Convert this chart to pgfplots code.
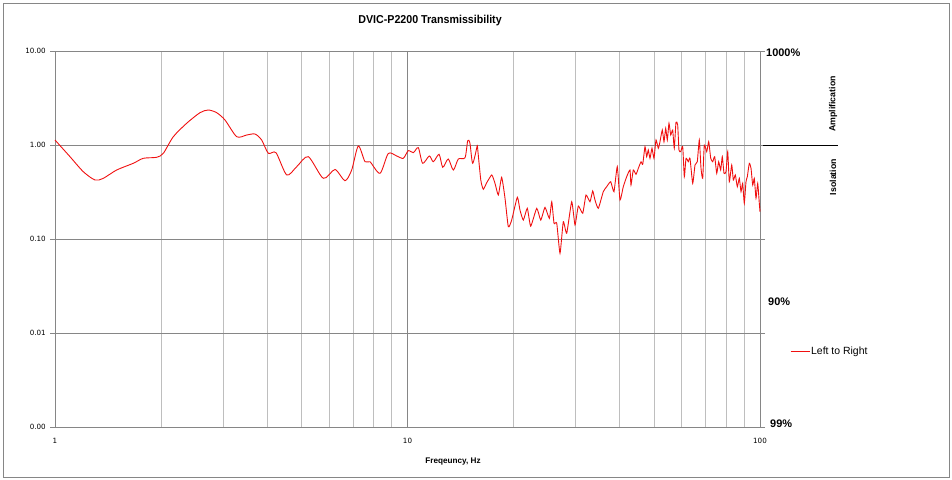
\documentclass[border=0pt]{standalone}
\usepackage{pgfplots}
\pgfplotsset{compat=1.18}
\usepackage{fontspec}
\setmainfont{Liberation Sans}
\newfontfamily\dejavu{DejaVu Sans}
\newfontfamily\narrow[FakeStretch=0.93]{Liberation Sans}
\definecolor{majgrid}{HTML}{868686}
\definecolor{mingrid}{HTML}{BEBEBE}
\definecolor{curve}{HTML}{F01010}
\begin{document}
\begin{tikzpicture}
\path[use as bounding box] (-55bp,-53bp) rectangle (897bp,427bp);
\draw[color=majgrid, line width=0.8bp] (-52bp,-50bp) rectangle (894bp,424bp);
\begin{axis}[
  scale only axis, width=705bp, height=376bp,
  xmode=log, ymode=log,
  xmin=1, xmax=100, ymin=0.001, ymax=10,
  xtick={1,10,100}, xticklabels={1,10,100},
  ytick={0.001,0.01,0.1,1,10}, yticklabels={0.00,0.01,0.10,1.00,10.00},
  yminorticks=false,
  xmajorgrids, xminorgrids, ymajorgrids,
  major grid style={color=majgrid, line width=0.7bp},
  minor grid style={color=mingrid, line width=0.7bp},
  axis line style={color=majgrid, line width=0.7bp},
  tick align=outside,
  major tick length=5bp, minor tick length=0pt,
  xtick style={draw=none},
  ytick style={color=majgrid, line width=0.7bp},
  yticklabel style={font=\dejavu\fontsize{7.2}{8}\selectfont, inner sep=0pt, xshift=-4bp},
  xticklabel style={font=\dejavu\fontsize{7.2}{8}\selectfont, inner sep=0pt, yshift=-6bp},
  title={DVIC-P2200 Transmissibility},
  title style={font=\narrow\bfseries\fontsize{11.5}{13}\selectfont, at={(rel axis cs:0.532,1)}, anchor=center, yshift=24bp},
  xlabel={Freqeuncy, Hz},
  xlabel style={font=\bfseries\fontsize{8.2}{9}\selectfont, at={(rel axis cs:0.5645,0)}, anchor=center, yshift=-35bp},
  legend style={draw=none, fill=none, at={(rel axis cs:1.0426,0.2)}, anchor=west, font=\fontsize{10.5}{12}\selectfont, inner sep=0pt},
  legend image code/.code={\path (0bp,0bp) -- (18bp,0bp);},
  clip=false,
]
\addplot[color=curve, line width=0.9bp, smooth, tension=0.45] coordinates {
(1.000,1.130) (1.103,0.751) (1.203,0.520) (1.299,0.424) (1.371,0.442)
(1.496,0.542) (1.668,0.639) (1.781,0.722) (1.943,0.740) (2.029,0.816)
(2.166,1.225) (2.363,1.702) (2.578,2.206) (2.722,2.357) (2.875,2.206)
(3.036,1.845) (3.277,1.225) (3.498,1.277) (3.693,1.309) (3.858,1.130)
(4.029,0.816) (4.236,0.828) (4.543,0.480) (4.850,0.588) (5.231,0.751)
(5.769,0.442) (6.229,0.549) (6.647,0.417) (6.945,0.542) (7.251,0.976)
(7.576,0.664) (7.828,0.664) (8.356,0.500) (8.820,0.812) (9.320,0.764)
(9.730,0.722) (10.05,0.870) (10.39,0.828) (10.73,0.936) (11.04,0.639)
(11.53,0.764) (11.84,0.664) (12.29,0.796) (12.59,0.579) (13.05,0.710)
(13.49,0.542) (13.94,0.710) (14.56,0.732) (14.82,1.111) (15.04,1.042)
(15.31,0.639) (15.78,1.000)
};
\addlegendentry{Left to Right}
\addplot[color=curve, line width=0.9bp, smooth, tension=0.3, forget plot] coordinates {
(15.78,1.000) (16.14,0.424) (16.41,0.338) (16.78,0.397) (17.34,0.480)
(17.71,0.391) (18.10,0.294) (18.50,0.453) (18.91,0.271) (19.32,0.135)
(19.75,0.159) (20.49,0.278) (20.85,0.203) (21.31,0.159) (21.87,0.212)
(22.36,0.137) (23.26,0.212) (23.88,0.159) (24.55,0.217) (25.26,0.166)
(25.66,0.249) (26.04,0.147) (26.51,0.147) (27.08,0.0705) (27.67,0.153)
(28.29,0.115) (29.23,0.249) (29.87,0.141) (30.52,0.224) (31.41,0.188)
(32.10,0.294) (32.94,0.249) (33.53,0.324) (34.03,0.260) (34.78,0.212)
(35.93,0.319) (36.74,0.360) (37.71,0.407) (38.53,0.319) (39.37,0.588)
(40.07,0.260) (40.94,0.360) (41.86,0.460)
(42.77,0.542) (43.05,0.375) (43.71,0.542) (44.49,0.488) (45.17,0.565)
(45.97,0.664) (46.48,0.623) (47.18,0.959) (47.70,0.751) (48.20,0.885)
(48.74,0.722) (49.38,0.923) (50.03,0.722) (50.70,1.130) (51.46,0.923)
(52.03,1.084) (52.82,1.444) (53.41,1.084) (54.01,1.506) (54.58,1.130)
(55.18,1.702) (55.81,1.277) (56.53,1.444) (57.13,0.923) (57.76,1.744)
(58.41,1.632) (58.90,0.885) (59.57,0.849) (60.36,0.959) (61.00,0.460)
(61.68,0.722) (62.60,0.664) (63.30,0.722) (64.43,0.391) (65.41,0.613)
(66.39,0.664) (67.27,1.130) (68.02,0.565) (68.78,0.442) (69.51,1.000)
(70.61,0.849) (71.54,1.084) (72.48,0.722) (73.42,0.664) (74.39,0.751)
(75.38,0.500) (76.35,0.664) (77.36,0.542) (78.18,0.751) (79.05,0.500)
(80.08,0.520) (80.99,0.849) (81.83,0.407) (83.13,0.613) (84.02,0.424)
(85.11,0.480) (86.23,0.360) (87.36,0.442) (88.34,0.319) (89.30,0.391)
(90.25,0.240) (91.25,0.407) (92.05,0.460) (93.26,0.639) (94.30,0.565)
(95.35,0.375) (96.34,0.442) (97.43,0.271) (98.51,0.391) (99.54,0.240)
(100.0,0.195)
};
\end{axis}
\draw[draw=curve, line width=1.0bp] (737bp,75.5bp) -- (755bp,75.5bp);
\node[font=\bfseries\fontsize{11}{12}\selectfont, anchor=west, inner sep=0pt] at (711bp,374bp) {1000\%};
\node[font=\bfseries\fontsize{11}{12}\selectfont, anchor=west, inner sep=0pt] at (713bp,125bp) {90\%};
\node[font=\bfseries\fontsize{11}{12}\selectfont, anchor=west, inner sep=0pt] at (715bp,3bp) {99\%};
\draw[black, line width=0.9bp] (708bp,282bp) -- (783bp,282bp);
\node[font=\bfseries\fontsize{8.8}{10}\selectfont, rotate=90, inner sep=0pt] at (778bp,323bp) {Amplification};
\node[font=\bfseries\fontsize{8.8}{10}\selectfont, rotate=90, inner sep=0pt] at (778bp,250bp) {Isolation};
\end{tikzpicture}
\end{document}
